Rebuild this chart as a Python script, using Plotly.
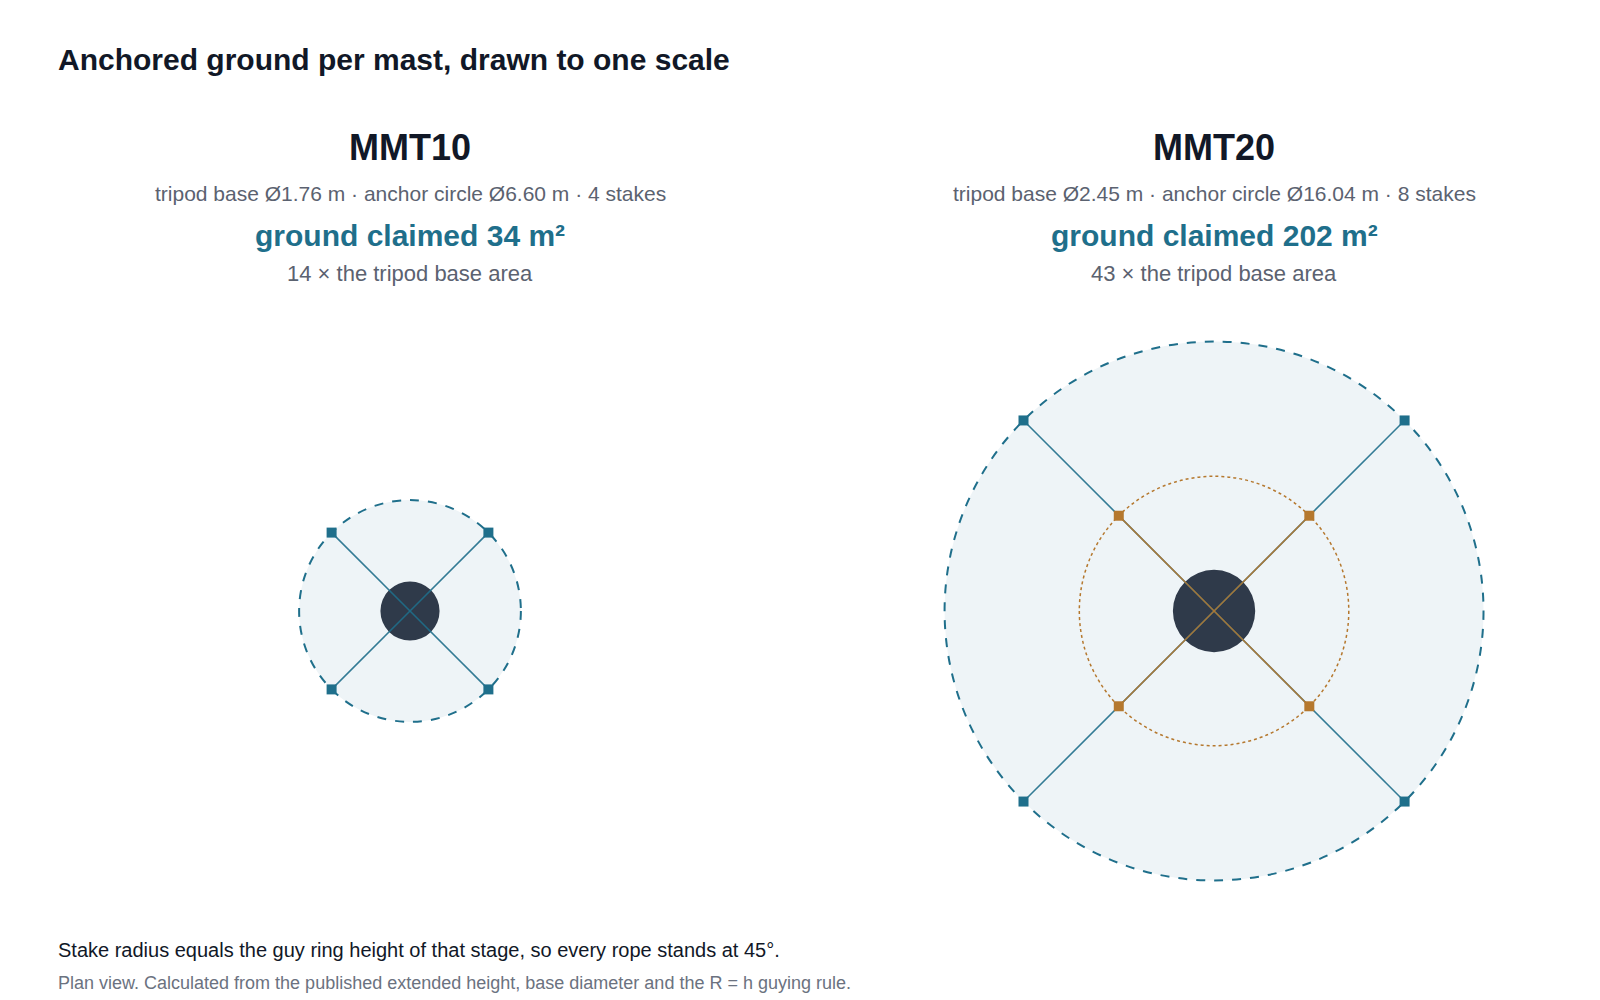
import numpy as np
import plotly.graph_objects as go

masts = ["MMT10", "MMT20"]
base_diam = [1.76, 2.45]
anchor_diam = [6.60, 16.04]
stake_counts = [4, 8]
stage_radii = [[3.30], [4.01, 8.02]]
area_claimed = [34, 202]
area_ratio = [14, 43]
centers_x = [0.0, 23.93]

TEAL = "#1f6f8b"
ORANGE = "#b5782e"
FILL = "#eef4f7"
DARK = "#2f3a4a"
FONT = "Liberation Sans, Arial, sans-serif"

W, H = 1600, 1000
SCALE = 33.6   # px per metre
CX_PX, CY_PX = 402, 603

fig = go.Figure()
shapes = []
annotations = []

def py(p):
    return 1 - p / H

for i, m in enumerate(masts):
    cx = centers_x[i]
    radii = stage_radii[i]
    R = max(radii)
    shapes.append(dict(type="circle", xref="x", yref="y", x0=cx - R, x1=cx + R, y0=-R, y1=R,
                       fillcolor=FILL, line=dict(color=TEAL, width=2, dash="dash"), layer="below"))
    for r in radii:
        if r != R:
            shapes.append(dict(type="circle", xref="x", yref="y", x0=cx - r, x1=cx + r, y0=-r, y1=r,
                               fillcolor="rgba(0,0,0,0)", line=dict(color=ORANGE, width=1.5, dash="dot"),
                               layer="below"))
    b = base_diam[i] / 2
    shapes.append(dict(type="circle", xref="x", yref="y", x0=cx - b, x1=cx + b, y0=-b, y1=b,
                       fillcolor=DARK, line=dict(width=0), layer="below"))
    angles = np.deg2rad([45, 135, 225, 315])
    for r in sorted(radii, reverse=True):
        col = TEAL if r == R else ORANGE
        for a in angles:
            fig.add_trace(go.Scatter(x=[cx, cx + r * np.cos(a)], y=[0, r * np.sin(a)], mode="lines",
                                     line=dict(color=col, width=1.6), opacity=0.9,
                                     hoverinfo="skip", showlegend=False))
    for r in radii:
        col = TEAL if r == R else ORANGE
        fig.add_trace(go.Scatter(x=cx + r * np.cos(angles), y=r * np.sin(angles), mode="markers",
                                 marker=dict(symbol="square", size=10, color=col),
                                 hoverinfo="skip", showlegend=False))
    annotations += [
        dict(x=cx, y=py(139.5), text=f"<b>{m}</b>", font=dict(size=36, color="#111827")),
        dict(x=cx, y=py(185.5), text=f"tripod base Ø{base_diam[i]:.2f} m · anchor circle Ø{anchor_diam[i]:.2f} m · {stake_counts[i]} stakes",
             font=dict(size=21, color="#5b6270")),
        dict(x=cx, y=py(227.5), text=f"<b>ground claimed {area_claimed[i]} m²</b>", font=dict(size=30, color=TEAL)),
        dict(x=cx, y=py(265.5), text=f"{area_ratio[i]} × the tripod base area", font=dict(size=22, color="#5b6270")),
    ]
for a in annotations:
    a.update(xref="x", yref="paper", showarrow=False, xanchor="center", yanchor="middle")

annotations += [
    dict(x=48 / W, y=py(51.5), text="<b>Anchored ground per mast, drawn to one scale</b>",
         font=dict(size=30, color="#111827")),
    dict(x=48 / W, y=py(941.5), text="Stake radius equals the guy ring height of that stage, so every rope stands at 45°.",
         font=dict(size=20, color="#111827")),
    dict(x=48 / W, y=py(974.5), text="Plan view. Calculated from the published extended height, base diameter and the R = h guying rule.",
         font=dict(size=18, color="#6b7280")),
]
for a in annotations[-3:]:
    a.update(xref="paper", yref="paper", showarrow=False, xanchor="left", yanchor="middle")

fig.update_layout(
    width=W, height=H, margin=dict(l=0, r=0, t=0, b=0),
    paper_bgcolor="white", plot_bgcolor="white",
    font=dict(family=FONT),
    shapes=shapes, annotations=annotations,
    xaxis=dict(range=[-CX_PX / SCALE, (W - CX_PX) / SCALE], visible=False, fixedrange=True),
    yaxis=dict(range=[-(H - CY_PX) / SCALE, CY_PX / SCALE], visible=False, fixedrange=True),
)
fig.write_html("out.html")
